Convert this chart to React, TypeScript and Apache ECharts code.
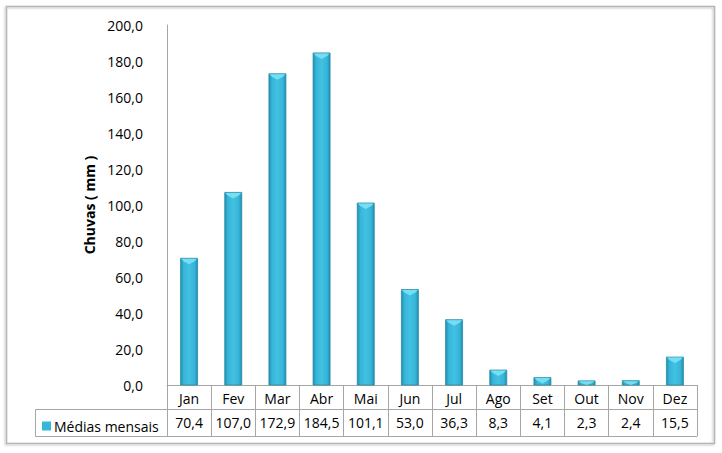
import React, { useEffect, useRef } from "react";
import * as echarts from "echarts";

const months = ["Jan", "Fev", "Mar", "Abr", "Mai", "Jun", "Jul", "Ago", "Set", "Out", "Nov", "Dez"];
const rainfall = [70.4, 107.0, 172.9, 184.5, 101.1, 53.0, 36.3, 8.3, 4.1, 2.3, 2.4, 15.5];
const seriesName = "Médias mensais";
const yAxisName = "Chuvas ( mm )";
const yMin = 0;
const yMax = 200;
const yStep = 20;

const fmt = (v: number) => v.toFixed(1).replace(".", ",");
const FONT = "Open Sans";
const GRID_LINE = "#a6a6a6";

export default function App() {
  const ref = useRef<HTMLDivElement>(null);
  useEffect(() => {
    if (!ref.current) return;
    const chart = echarts.init(ref.current, undefined, { renderer: "svg" });
    const barGrad = new echarts.graphic.LinearGradient(0, 0, 1, 0, [
      { offset: 0, color: "#1f8fae" },
      { offset: 0.18, color: "#36b5d9" },
      { offset: 0.5, color: "#42c1e2" },
      { offset: 0.82, color: "#36b5d9" },
      { offset: 1, color: "#1f8fae" },
    ]);
    chart.setOption({
      animation: false,
      backgroundColor: "#ffffff",
      textStyle: { fontFamily: FONT },
      grid: { left: 167, right: 25, top: 25, bottom: 68, containLabel: false },
      legend: {
        data: [{ name: seriesName, icon: "rect" }],
        left: 37,
        top: 414,
        itemWidth: 9,
        itemHeight: 9,
        itemGap: 4,
        textStyle: { fontSize: 14, color: "#000", fontFamily: FONT, padding: [0, 0, 0, -2] },
        selectedMode: false,
      },
      xAxis: [
        {
          type: "category",
          data: months,
          position: "bottom",
          axisLine: { show: true, lineStyle: { color: GRID_LINE, width: 1 } },
          axisTick: { show: true, interval: 0, length: 51, lineStyle: { color: GRID_LINE, width: 1 } },
          axisLabel: { interval: 0, margin: 6, fontSize: 14, color: "#000", fontFamily: FONT },
          splitLine: { show: false },
        },
        {
          type: "category",
          data: months,
          position: "bottom",
          offset: 24,
          axisLine: { show: true, lineStyle: { color: GRID_LINE, width: 1 } },
          axisTick: { show: false },
          axisLabel: {
            interval: 0,
            margin: 6,
            fontSize: 14,
            color: "#000",
            fontFamily: FONT,
            formatter: (_v: string, i: number) => fmt(rainfall[i]),
          },
        },
        {
          type: "category",
          data: months,
          position: "bottom",
          offset: 51,
          axisLine: { show: true, lineStyle: { color: GRID_LINE, width: 1 } },
          axisTick: { show: false },
          axisLabel: { show: false },
        },
      ],
      yAxis: {
        type: "value",
        min: yMin,
        max: yMax,
        interval: yStep,
        name: yAxisName,
        nameLocation: "middle",
        nameGap: 70,
        nameRotate: 90,
        nameTextStyle: { fontSize: 14, fontWeight: "bold", color: "#000", fontFamily: FONT },
        axisLine: { show: true, lineStyle: { color: GRID_LINE, width: 1 } },
        axisTick: { show: false },
        axisLabel: { fontSize: 14, color: "#000", margin: 24, fontFamily: FONT, formatter: (v: number) => fmt(v) },
        splitLine: { show: false },
      },
      graphic: [
        {
          type: "rect",
          shape: { x: 6.5, y: 6.5, width: 708, height: 437 },
          style: { fill: "none", stroke: "#b5b5b5", lineWidth: 1.5, shadowColor: "rgba(0,0,0,0.25)", shadowBlur: 2, shadowOffsetX: -1, shadowOffsetY: 1 },
          silent: true,
          z: -1,
        },
        { type: "line", shape: { x1: 35.5, y1: 409.5, x2: 167, y2: 409.5 }, style: { stroke: GRID_LINE, lineWidth: 1 }, silent: true },
        { type: "line", shape: { x1: 35.5, y1: 436.5, x2: 167, y2: 436.5 }, style: { stroke: GRID_LINE, lineWidth: 1 }, silent: true },
        { type: "line", shape: { x1: 35.5, y1: 409.5, x2: 35.5, y2: 436.5 }, style: { stroke: GRID_LINE, lineWidth: 1 }, silent: true },
      ],
      series: [
        {
          name: seriesName,
          type: "custom",
          xAxisIndex: 0,
          yAxisIndex: 0,
          itemStyle: { color: "#38b6da" },
          encode: { x: 0, y: 1 },
          data: rainfall.map((v, i) => [i, v]),
          renderItem: (params: any, api: any) => {
            const idx = api.value(0);
            const val = api.value(1);
            const top = api.coord([idx, val]);
            const base = api.coord([idx, 0]);
            const w = 17;
            const x0 = top[0] - w / 2;
            const h = base[1] - top[1];
            const bev = Math.min(6, h);
            return {
              type: "group",
              children: [
                {
                  type: "rect",
                  shape: { x: x0, y: top[1], width: w, height: h },
                  style: { fill: barGrad, stroke: "#2a8aa6", lineWidth: 0.8 },
                },
                {
                  type: "polygon",
                  shape: {
                    points: [
                      [x0 + 0.5, top[1] + 0.5],
                      [x0 + w - 0.5, top[1] + 0.5],
                      [x0 + w - 3, top[1] + bev * 0.5],
                      [top[0], top[1] + bev],
                      [x0 + 3, top[1] + bev * 0.5],
                    ],
                  },
                  style: { fill: "#74def3" },
                },
              ],
            };
          },
        },
      ],
    });
    return () => chart.dispose();
  }, []);
  return <div ref={ref} style={{ position: "fixed", left: 0, top: 0, width: 722, height: 453 }} />;
}
